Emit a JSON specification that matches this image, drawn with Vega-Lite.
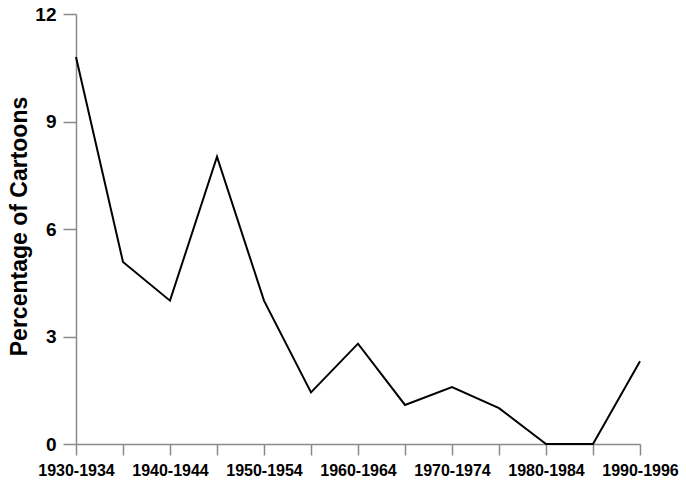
{
  "$schema": "https://vega.github.io/schema/vega-lite/v6.json",
  "autosize": "none",
  "padding": {"left": 76, "top": 14, "right": 46, "bottom": 38},
  "width": 564,
  "height": 430,
  "background": "white",
  "config": {
    "view": {"stroke": null},
    "font": "Liberation Sans"
  },
  "data": {
    "values": [
      {"period": "1930-1934", "pct": 10.8},
      {"period": "1935-1939", "pct": 5.08},
      {"period": "1940-1944", "pct": 4.0},
      {"period": "1945-1949", "pct": 8.02},
      {"period": "1950-1954", "pct": 4.0},
      {"period": "1955-1959", "pct": 1.44},
      {"period": "1960-1964", "pct": 2.8},
      {"period": "1965-1969", "pct": 1.09},
      {"period": "1970-1974", "pct": 1.59},
      {"period": "1975-1979", "pct": 1.0},
      {"period": "1980-1984", "pct": 0},
      {"period": "1985-1989", "pct": 0},
      {"period": "1990-1996", "pct": 2.31}
    ]
  },
  "mark": {"type": "line", "color": "black", "strokeWidth": 2},
  "encoding": {
    "x": {
      "field": "period",
      "type": "ordinal",
      "sort": null,
      "scale": {"type": "point", "padding": 0},
      "axis": {
        "title": null,
        "labelAngle": 0,
        "labelExpr": "indexof(['1930-1934','1940-1944','1950-1954','1960-1964','1970-1974','1980-1984','1990-1996'], datum.value) >= 0 ? datum.value : ''",
        "labelFont": "Liberation Sans",
        "labelFontWeight": "bold",
        "labelFontSize": 16,
        "labelColor": "black",
        "labelPadding": 7,
        "labelOverlap": false,
        "domainColor": "#8a8a8a",
        "domainWidth": 1.5,
        "tickColor": "#8a8a8a",
        "tickWidth": 1.5,
        "tickSize": 11,
        "grid": false
      }
    },
    "y": {
      "field": "pct",
      "type": "quantitative",
      "scale": {"domain": [0, 12], "nice": false},
      "axis": {
        "title": "Percentage of Cartoons",
        "titleFont": "Liberation Sans",
        "titleFontWeight": "bold",
        "titleFontSize": 23,
        "titleColor": "black",
        "titleX": -57,
        "titleY": 212,
        "titleAngle": -90,
        "titleAlign": "center",
        "titleBaseline": "middle",
        "values": [0, 3, 6, 9, 12],
        "labelFont": "Liberation Sans",
        "labelFontWeight": "bold",
        "labelFontSize": 19,
        "labelColor": "black",
        "labelPadding": 7,
        "domainColor": "#8a8a8a",
        "domainWidth": 1.5,
        "tickColor": "#8a8a8a",
        "tickWidth": 1.5,
        "tickSize": 13,
        "grid": false
      }
    }
  }
}
